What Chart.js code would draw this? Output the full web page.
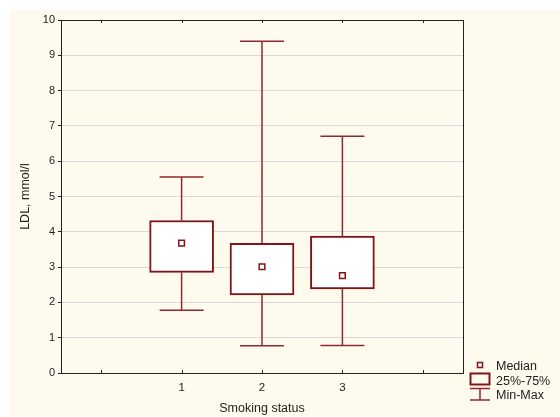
<!DOCTYPE html>
<html>
<head>
<meta charset="utf-8">
<script src="https://cdn.jsdelivr.net/npm/chart.js@4.4.1/dist/chart.umd.min.js"></script>
<style>
  html, body { margin: 0; padding: 0; background: #ffffff; }
  #wrap { position: absolute; left: 10px; top: 10px; width: 550px; height: 406px; background: #fffaee; }
</style>
</head>
<body>
<div id="wrap"><canvas id="boxChart"></canvas></div>
<script>
// Box plot data
const categories = ['1', '2', '3'];
const positions = [1, 2, 3];
const minVals = [1.78, 0.77, 0.78];
const q1Vals = [2.85, 2.21, 2.38];
const medianVals = [3.68, 3.01, 2.76];
const q3Vals = [4.32, 3.67, 3.88];
const maxVals = [5.55, 9.40, 6.71];

const xTicks = [0, 1, 2, 3, 4];
const yTicks = [0, 1, 2, 3, 4, 5, 6, 7, 8, 9, 10];
const legendLabels = ['Median', '25%-75%', 'Min-Max'];

const RED = '#7f1518';
const WHISKER = '#8e2a2d';
const FONT = 'Liberation Sans, Arial, sans-serif';

// Whiskers: vertical lines from box to min/max, with caps
const whiskerPlugin = {
  id: 'whiskers',
  beforeDatasetsDraw(chart) {
    const { ctx, scales: { x, y } } = chart;
    const cap = 22;
    ctx.save();
    ctx.strokeStyle = WHISKER;
    ctx.lineWidth = 1.5;
    positions.forEach((p, i) => {
      const px = x.getPixelForValue(p);
      const yMin = y.getPixelForValue(minVals[i]);
      const yMax = y.getPixelForValue(maxVals[i]);
      const yQ1 = y.getPixelForValue(q1Vals[i]);
      const yQ3 = y.getPixelForValue(q3Vals[i]);
      ctx.beginPath();
      ctx.moveTo(px, yQ3); ctx.lineTo(px, yMax);
      ctx.moveTo(px, yQ1); ctx.lineTo(px, yMin);
      ctx.moveTo(px - cap, yMax); ctx.lineTo(px + cap, yMax);
      ctx.moveTo(px - cap, yMin); ctx.lineTo(px + cap, yMin);
      ctx.stroke();
    });
    ctx.restore();
  }
};

// Frame around plot area, inner ticks on x axis, and legend
const framePlugin = {
  id: 'frame',
  afterDraw(chart) {
    const { ctx, chartArea: a, scales: { x } } = chart;
    ctx.save();
    ctx.strokeStyle = '#222';
    ctx.lineWidth = 1;
    ctx.strokeRect(a.left + 0.5, a.top + 0.5, a.right - a.left, a.bottom - a.top);
    ctx.beginPath();
    xTicks.forEach(v => {
      const px = Math.round(x.getPixelForValue(v)) + 0.5;
      ctx.moveTo(px, a.bottom); ctx.lineTo(px, a.bottom - 3);
      ctx.moveTo(px, a.top); ctx.lineTo(px, a.top + 3);
    });
    ctx.stroke();

    // legend
    const cx = a.right + 17;
    const rows = [a.bottom - 8, a.bottom + 7, a.bottom + 21];
    ctx.strokeStyle = RED;
    ctx.fillStyle = '#ffffff';
    ctx.lineWidth = 1.5;
    // median marker
    ctx.fillRect(cx - 2.5, rows[0] - 2.5, 5, 5);
    ctx.strokeRect(cx - 2.5, rows[0] - 2.5, 5, 5);
    // box
    ctx.lineWidth = 2;
    ctx.strokeRect(cx - 9.5, rows[1] - 6.5, 19, 11);
    // min-max
    ctx.lineWidth = 1.5;
    ctx.strokeStyle = WHISKER;
    ctx.beginPath();
    ctx.moveTo(cx - 10, rows[2] - 5.5); ctx.lineTo(cx + 10, rows[2] - 5.5);
    ctx.moveTo(cx, rows[2] - 5.5); ctx.lineTo(cx, rows[2] + 6);
    ctx.moveTo(cx - 10, rows[2] + 6); ctx.lineTo(cx + 10, rows[2] + 6);
    ctx.stroke();

    ctx.fillStyle = '#222';
    ctx.font = '12.5px ' + FONT;
    ctx.textBaseline = 'middle';
    legendLabels.forEach((t, i) => ctx.fillText(t, a.right + 33, rows[i] + 2));
    ctx.restore();
  }
};

function initChart() {
  const ctx = document.getElementById('boxChart');
  new Chart(ctx, {
    type: 'bar',
    data: {
      datasets: [
        {
          type: 'scatter',
          label: 'Median',
          data: positions.map((p, i) => ({ x: p, y: medianVals[i] })),
          pointStyle: 'rect',
          pointRadius: 4,
          pointBackgroundColor: '#ffffff',
          pointBorderColor: RED,
          pointBorderWidth: 1.5,
          order: 0
        },
        {
          label: '25%-75%',
          data: positions.map((p, i) => ({ x: p, y: [q1Vals[i], q3Vals[i]] })),
          backgroundColor: '#ffffff',
          borderColor: RED,
          borderWidth: 2,
          borderSkipped: false,
          barThickness: 64,
          grouped: false,
          order: 1
        }
      ]
    },
    options: {
      responsive: true,
      maintainAspectRatio: false,
      animation: false,
      layout: { padding: { left: 0, right: 97, top: 10, bottom: 0 } },
      plugins: {
        legend: { display: false },
        tooltip: { enabled: false }
      },
      scales: {
        x: {
          type: 'linear',
          offset: false,
          min: -0.5,
          max: 4.5,
          afterBuildTicks: s => { s.ticks = xTicks.map(v => ({ value: v })); },
          afterFit: s => { s.height = 43; },
          grid: { display: false, drawTicks: false },
          border: { display: false },
          ticks: {
            padding: 8,
            color: '#222',
            font: { family: FONT, size: 11.5 },
            callback: v => {
              const i = positions.indexOf(v);
              return i >= 0 ? categories[i] : '';
            }
          },
          title: {
            display: true,
            text: 'Smoking status',
            color: '#222',
            font: { family: FONT, size: 12.5 },
            padding: { top: 6, bottom: 0 }
          }
        },
        y: {
          min: 0,
          max: 10,
          afterBuildTicks: s => { s.ticks = yTicks.map(v => ({ value: v })); },
          afterFit: s => { s.width = 51; },
          grid: { color: '#d9d9d9', tickColor: '#222', tickLength: 3 },
          border: { display: false },
          ticks: {
            padding: 3,
            color: '#222',
            font: { family: FONT, size: 11 }
          },
          title: {
            display: true,
            text: 'LDL, mmol/l',
            color: '#222',
            font: { family: FONT, size: 12.5 },
            padding: { top: 8, bottom: 0 }
          }
        }
      }
    },
    plugins: [whiskerPlugin, framePlugin]
  });
}

document.addEventListener('DOMContentLoaded', initChart);
</script>
</body>
</html>
